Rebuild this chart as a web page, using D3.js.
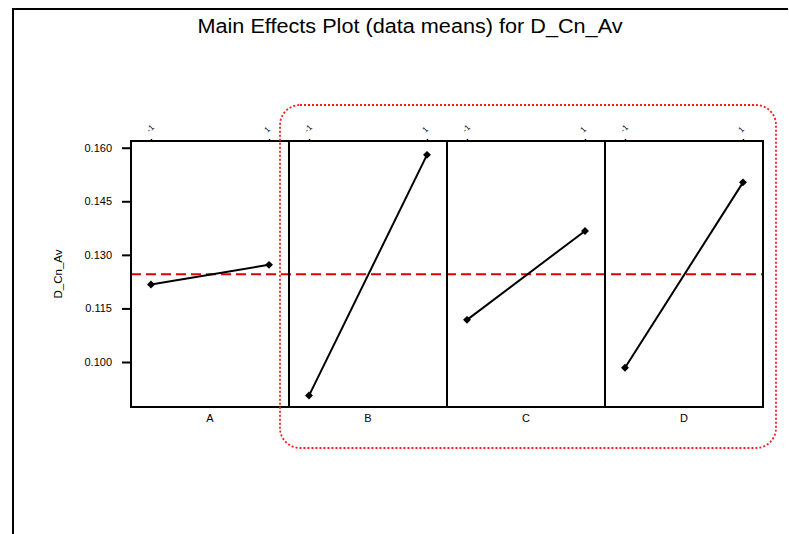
<!DOCTYPE html>
<html>
<head>
<meta charset="utf-8">
<script src="https://cdn.jsdelivr.net/npm/d3@7"></script>
<style>
  html, body { margin: 0; padding: 0; background: #fff; }
  svg { display: block; }
  text { font-family: "Liberation Sans", Arial, sans-serif; fill: #000; }
</style>
</head>
<body>
<svg id="chart" width="789" height="534"></svg>
<script>
// ---- data ----
const factors = ["A", "B", "C", "D"];
const levels = [-1, 1];
const levelLabels = ["-1", "1"];
const meansLow = [0.1217, 0.0906, 0.1118, 0.0984];
const meansHigh = [0.1272, 0.1580, 0.1367, 0.1503];
const grandMean = 0.1246;
const yTicks = [0.100, 0.115, 0.130, 0.145, 0.160];
const titleText = "Main Effects Plot (data means) for D_Cn_Av";
const yLabel = "D_Cn_Av";

// ---- layout ----
const svg = d3.select("#chart");
const plotLeft = 131, plotTop = 141, plotBottom = 407, panelW = 158;
const plotRight = plotLeft + panelW * factors.length;

const y = d3.scaleLinear().domain([0.0874, 0.16188]).range([plotBottom, plotTop]);
const panelX = d3.scaleBand().domain(factors).range([plotLeft, plotRight]).padding(0);
const xIn = d3.scaleLinear().domain([-1, 1]).range([20, 138]);

// outer frame (top and left)
svg.append("path").attr("d", `M13,534 L13,9 L788,9`)
  .attr("fill", "none").attr("stroke", "#000").attr("stroke-width", 2);

// title
svg.append("text").attr("x", 410).attr("y", 33).attr("text-anchor", "middle")
  .attr("font-size", 20).attr("textLength", 425).attr("lengthAdjust", "spacingAndGlyphs")
  .text(titleText);

// y axis
const yAxis = d3.axisLeft(y).tickValues(yTicks).tickFormat(d3.format(".3f")).tickSize(9).tickPadding(10);
const gy = svg.append("g").attr("transform", `translate(${plotLeft},0)`).call(yAxis);
gy.select(".domain").remove();
gy.selectAll(".tick line").attr("stroke", "#000").attr("stroke-width", 2);
gy.selectAll(".tick text").attr("font-size", 11).attr("font-family", "Liberation Sans, Arial, sans-serif").attr("fill", "#000");

svg.append("text").attr("transform", `translate(62,${(plotTop + plotBottom) / 2}) rotate(-90)`)
  .attr("text-anchor", "middle").attr("font-size", 11.5).text(yLabel);

// grand mean line
svg.append("line").attr("x1", plotLeft).attr("x2", plotRight)
  .attr("y1", y(grandMean)).attr("y2", y(grandMean))
  .attr("stroke", "#e00000").attr("stroke-width", 2).attr("stroke-dasharray", "10,5");

// panels
factors.forEach((f, i) => {
  const px = panelX(f);
  const g = svg.append("g").attr("transform", `translate(${px},0)`);
  const topAxis = d3.axisTop(xIn).tickValues(levels).tickFormat((d, k) => levelLabels[k]).tickSize(2).tickPadding(4);
  const gt = g.append("g").attr("transform", `translate(0,${plotTop})`).call(topAxis);
  gt.select(".domain").remove();
  gt.selectAll(".tick line").attr("stroke", "#000").attr("stroke-width", 1.5);
  gt.selectAll(".tick text")
    .attr("font-size", 8).attr("fill", "#000")
    .attr("text-anchor", "start").attr("dy", 0).attr("y", 0)
    .attr("transform", "translate(-2,-8) rotate(-45)");

  g.append("rect").attr("x", 0).attr("y", plotTop).attr("width", panelX.bandwidth()).attr("height", plotBottom - plotTop)
    .attr("fill", "none").attr("stroke", "#000").attr("stroke-width", 2);

  g.append("text").attr("x", panelX.bandwidth() / 2).attr("y", plotBottom + 15)
    .attr("text-anchor", "middle").attr("font-size", 11).text(f);

  const pts = [[levels[0], meansLow[i]], [levels[1], meansHigh[i]]];
  g.append("path").attr("d", d3.line().x(d => xIn(d[0])).y(d => y(d[1]))(pts))
    .attr("fill", "none").attr("stroke", "#000").attr("stroke-width", 2);
  g.selectAll("path.pt").data(pts).enter().append("path").attr("class", "pt")
    .attr("d", d3.symbol().type(d3.symbolDiamond2).size(40))
    .attr("transform", d => `translate(${xIn(d[0])},${y(d[1])})`)
    .attr("fill", "#000");
});

// red dotted rounded highlight box
svg.append("rect").attr("x", panelX("B") - 9).attr("y", 105)
  .attr("width", 776 - (panelX("B") - 9)).attr("height", 448 - 105)
  .attr("rx", 20).attr("ry", 20)
  .attr("fill", "none").attr("stroke", "#ff1a1a").attr("stroke-width", 1.8).attr("stroke-dasharray", "2,2");
</script>
</body>
</html>
